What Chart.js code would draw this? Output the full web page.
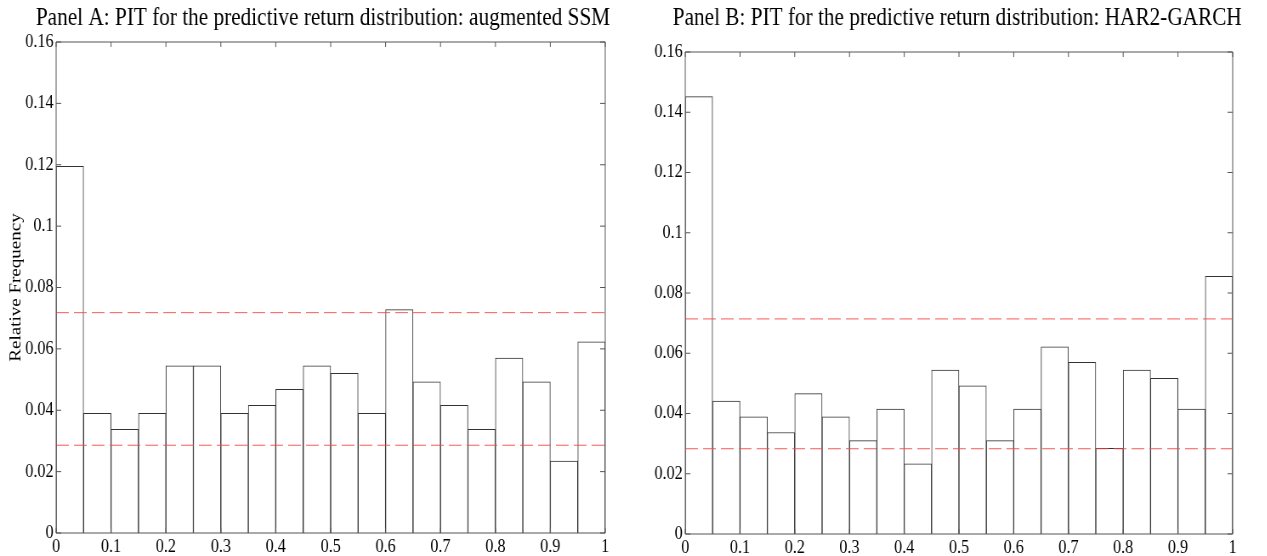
<!DOCTYPE html>
<html>
<head>
<meta charset="utf-8">
<script src="https://cdn.jsdelivr.net/npm/chart.js@4.4.1/dist/chart.umd.min.js"></script>
<style>
  body { margin: 0; background: #fff; width: 1267px; height: 556px; overflow: hidden; position: relative; }
  canvas { position: absolute; top: 0; transform-origin: 0 0; transform: scaleX(0.85); }
  #panelA { left: 0; }
  #panelB { left: 630px; }
</style>
</head>
<body>
<canvas id="panelA" width="730" height="556"></canvas>
<canvas id="panelB" width="750" height="556"></canvas>
<script>
// bin centres of the 20 PIT bins
const binCenters = [0.025, 0.075, 0.125, 0.175, 0.225, 0.275, 0.325, 0.375, 0.425, 0.475,
  0.525, 0.575, 0.625, 0.675, 0.725, 0.775, 0.825, 0.875, 0.925, 0.975];

const freqSSM = [0.1195, 0.039, 0.0338, 0.039, 0.0545, 0.0545, 0.039, 0.0416, 0.0468, 0.0545,
  0.052, 0.039, 0.0728, 0.0493, 0.0416, 0.0338, 0.057, 0.0493, 0.0234, 0.0623];
const freqHAR = [0.1452, 0.0441, 0.0389, 0.0337, 0.0466, 0.0389, 0.031, 0.0415, 0.0233, 0.0544,
  0.0492, 0.031, 0.0415, 0.0621, 0.057, 0.0284, 0.0544, 0.0517, 0.0415, 0.0855];

// confidence band (upper, lower)
const bandSSM = [0.0718, 0.0286];
const bandHAR = [0.0714, 0.0283];

const xTicks = [0, 0.1, 0.2, 0.3, 0.4, 0.5, 0.6, 0.7, 0.8, 0.9, 1];
const xLabels = ["0", "0.1", "0.2", "0.3", "0.4", "0.5", "0.6", "0.7", "0.8", "0.9", "1"];
const yTicks = [0, 0.02, 0.04, 0.06, 0.08, 0.1, 0.12, 0.14, 0.16];
const yLabels = ["0", "0.02", "0.04", "0.06", "0.08", "0.1", "0.12", "0.14", "0.16"];

const titleA = "Panel A: PIT for the predictive return distribution: augmented SSM";
const titleB = "Panel B: PIT for the predictive return distribution: HAR2-GARCH";

const serif = "'Liberation Serif', 'Times New Roman', serif";

// box round the plot with inward ticks on all four sides
const frameTicks = {
  id: "frameTicks",
  afterDatasetsDraw(chart) {
    const { ctx, chartArea: a, scales } = chart;
    ctx.save();
    ctx.strokeStyle = "#555";
    ctx.lineWidth = 1;
    ctx.beginPath();
    ctx.rect(a.left, a.top, a.right - a.left, a.bottom - a.top);
    scales.x.ticks.forEach((t) => {
      const p = scales.x.getPixelForValue(t.value);
      ctx.moveTo(p, a.bottom); ctx.lineTo(p, a.bottom - 5);
      ctx.moveTo(p, a.top); ctx.lineTo(p, a.top + 5);
    });
    scales.y.ticks.forEach((t) => {
      const p = scales.y.getPixelForValue(t.value);
      ctx.moveTo(a.left, p); ctx.lineTo(a.left + 6, p);
      ctx.moveTo(a.right, p); ctx.lineTo(a.right - 6, p);
    });
    ctx.stroke();
    ctx.restore();
  },
};

// panel heading, centred a little left of the plot centre like the original
const panelTitle = {
  id: "panelTitle",
  afterDraw(chart, args, opts) {
    const { ctx, chartArea: a } = chart;
    ctx.save();
    ctx.fillStyle = "#000";
    ctx.font = "25px " + serif;
    ctx.textAlign = "center";
    ctx.textBaseline = "alphabetic";
    ctx.fillText(opts.text, (a.left + a.right) / 2 + opts.shift, 25);
    ctx.restore();
  },
};

function bandLine(y) {
  return {
    type: "line",
    data: [{ x: 0, y: y }, { x: 1, y: y }],
    borderColor: "rgba(250, 70, 70, 0.9)",
    borderWidth: 1,
    borderDash: [15, 6],
    pointRadius: 0,
    fill: false,
    order: 0,
  };
}

function makePanel(id, title, freq, band, o) {
  return new Chart(document.getElementById(id), {
    type: "bar",
    data: {
      datasets: [
        {
          data: binCenters.map((x, i) => ({ x: x, y: freq[i] })),
          backgroundColor: "#fff",
          borderColor: "#333",
          borderWidth: 1,
          barPercentage: 1,
          categoryPercentage: 1,
          order: 1,
        },
        bandLine(band[0]),
        bandLine(band[1]),
      ],
    },
    options: {
      responsive: false,
      animation: false,
      devicePixelRatio: 1,
      layout: { padding: { left: 0, right: o.padRight, top: o.padTop, bottom: 0 } },
      plugins: {
        legend: { display: false },
        tooltip: { enabled: false },
        title: { display: false },
        panelTitle: { text: title, shift: o.titleShift },
      },
      scales: {
        x: {
          type: "linear",
          min: 0,
          max: 1,
          offset: false,
          grid: { display: false, drawTicks: false },
          border: { display: false },
          afterBuildTicks: (s) => { s.ticks = xTicks.map((v) => ({ value: v })); },
          afterFit: (s) => { s.height = o.xHeight; },
          ticks: {
            autoSkip: false,
            maxRotation: 0,
            padding: 3,
            color: "#000",
            font: { family: serif, size: 19 },
            callback: (v, i) => xLabels[i],
          },
        },
        y: {
          min: 0,
          max: 0.16,
          grid: { display: false, drawTicks: false },
          border: { display: false },
          afterBuildTicks: (s) => { s.ticks = yTicks.map((v) => ({ value: v })); },
          afterFit: (s) => { s.width = o.yWidth; },
          ticks: {
            padding: 3,
            color: "#000",
            font: { family: serif, size: 19 },
            callback: (v, i) => yLabels[i],
          },
          title: {
            display: o.yTitle,
            text: "Relative Frequency",
            color: "#000",
            font: { family: serif, size: 19 },
            padding: { top: 8, bottom: 0 },
          },
        },
      },
    },
    plugins: [frameTicks, panelTitle],
  });
}

makePanel("panelA", titleA, freqSSM, bandSSM,
  { yWidth: 66, padRight: 18, padTop: 42, xHeight: 23, titleShift: -9, yTitle: true });
makePanel("panelB", titleB, freqHAR, bandHAR,
  { yWidth: 65, padRight: 41, padTop: 52, xHeight: 22, titleShift: -2, yTitle: false });
</script>
</body>
</html>
